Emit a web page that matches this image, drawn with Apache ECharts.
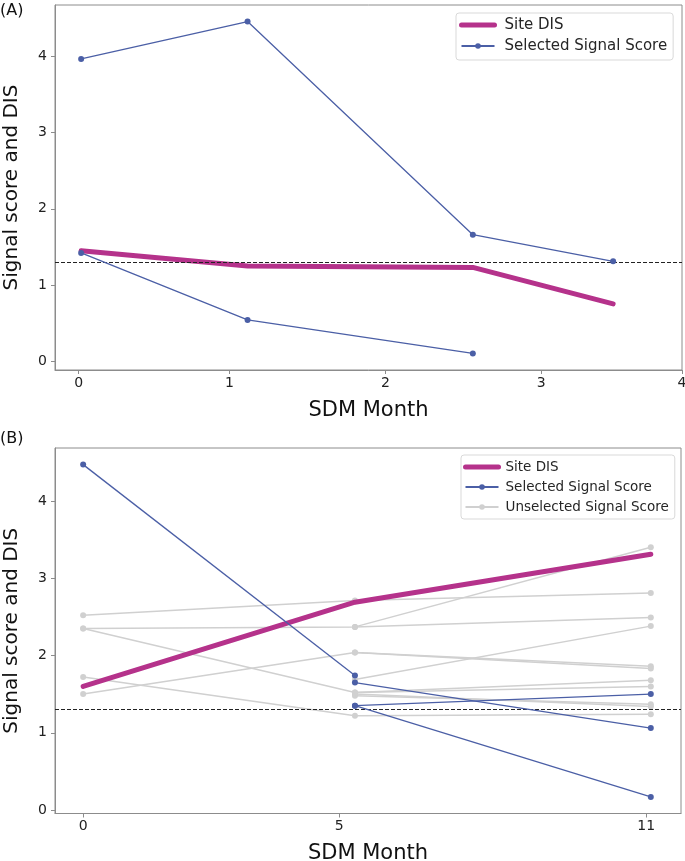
<!DOCTYPE html>
<html><head><meta charset="utf-8">
<script src="https://cdn.jsdelivr.net/npm/echarts@6/dist/echarts.min.js"></script>
<style>html,body{margin:0;padding:0;background:#fff}#c{width:685px;height:861px}</style>
</head><body><div id="c"></div>
<script>
// ---------- Panel A (x in days; ticks at month boundaries) ----------
const monthTicksA = [0, 30, 61, 92, 120];
const monthLabelsA = ['0', '1', '2', '3', '4'];
const daysA = [0.5, 33.6, 78.4, 106.3];
const siteDisA = [1.45, 1.25, 1.23, 0.75];
const selectedA1 = [3.97, 4.46, 1.66, 1.31];
const selectedA2 = [1.42, 0.54, 0.10, null];

// ---------- Panel B (x in months) ----------
const monthTicksB = [0, 5, 11];
const monthLabelsB = ['0', '5', '11'];
const monthsB = [0, 5.31, 11.09];
const siteDisB = [1.60, 2.69, 3.31];
const selectedB1 = [4.47, 1.74, null];
const selectedB2 = [null, 1.65, 1.06];
const selectedB3 = [null, 1.35, 1.50];
const selectedB4 = [null, 1.35, 0.17];
const unselectedB1 = [2.52, 2.71, 2.81];
const unselectedB2 = [2.35, 2.37, 2.49];
const unselectedB3 = [2.35, 1.52, 1.60];
const unselectedB4 = [1.72, 1.22, 1.24];
const unselectedB5 = [1.50, 2.04, 1.83];
const unselectedB6 = [null, 1.69, 2.38];
const unselectedB7 = [null, 2.37, 3.40];
const unselectedB8 = [null, 1.48, 1.37];
const unselectedB9 = [null, 1.50, 1.34];
const unselectedB10 = [null, 2.04, 1.86];
const unselectedB11 = [null, 1.52, 1.68];

const yTicks = [0, 1, 2, 3, 4];
const threshold = 1.3;

// ---------- styling ----------
const FONT = 'DejaVu Sans';
const C_DIS = '#b5328b', C_SEL = '#4b5fa6', C_UNS = '#d0d0d0', C_AX = '#8c8c8c';

function pairs(xs, ys) {
  const out = [];
  for (let i = 0; i < xs.length; i++) if (ys[i] !== null && ys[i] !== undefined) out.push([xs[i], ys[i]]);
  return out;
}
function xAxisCfg(gi, min, max, ticks, labels) {
  const map = {}; ticks.forEach((t, i) => map[t] = labels[i]);
  return {
    type: 'value', gridIndex: gi, min: min, max: max,
    name: 'SDM Month', nameLocation: 'middle', nameGap: 30,
    nameTextStyle: { fontSize: 21, color: '#111', fontFamily: FONT },
    axisLine: { show: true, onZero: false, lineStyle: { color: C_AX, width: 1 } },
    axisTick: { show: true, customValues: ticks, length: 4, lineStyle: { color: C_AX } },
    axisLabel: { customValues: ticks, showMinLabel: true, showMaxLabel: true,
      formatter: v => (map[v] !== undefined ? map[v] : ''), fontSize: 14, color: '#222', margin: 6, fontFamily: FONT },
    splitLine: { show: false }
  };
}
function yAxisCfg(gi, min, max) {
  return {
    type: 'value', gridIndex: gi, min: min, max: max,
    name: 'Signal score and DIS', nameLocation: 'middle', nameGap: 33,
    nameTextStyle: { fontSize: 20, color: '#111', fontFamily: FONT },
    axisLine: { show: true, onZero: false, lineStyle: { color: C_AX, width: 1 } },
    axisTick: { show: true, customValues: yTicks, length: 4, lineStyle: { color: C_AX } },
    axisLabel: { customValues: yTicks, showMinLabel: true, showMaxLabel: true,
      fontSize: 14, color: '#222', margin: 8, fontFamily: FONT },
    splitLine: { show: false }
  };
}
function disSeries(gi, xs, ys) {
  return {
    type: 'line', name: 'Site DIS', xAxisIndex: gi, yAxisIndex: gi, z: 4,
    data: pairs(xs, ys), symbol: 'circle', symbolSize: 4, showSymbol: true,
    lineStyle: { color: C_DIS, width: 5, cap: 'round', join: 'round' },
    itemStyle: { color: C_DIS },
    markLine: {
      silent: true, symbol: ['none', 'none'], label: { show: false },
      lineStyle: { color: '#222', type: [4, 2], width: 1.2 },
      data: [{ yAxis: threshold }]
    }
  };
}
function sigSeries(gi, name, xs, ys, color, width, z) {
  return {
    type: 'line', name: name, xAxisIndex: gi, yAxisIndex: gi, z: z,
    data: pairs(xs, ys), symbol: 'circle', symbolSize: 6, showSymbol: true,
    lineStyle: { color: color, width: width }, itemStyle: { color: color }
  };
}

const series = [
  disSeries(0, daysA, siteDisA),
  sigSeries(0, 'Selected Signal Score', daysA, selectedA1, C_SEL, 1.3, 5),
  sigSeries(0, 'Selected Signal Score', daysA, selectedA2, C_SEL, 1.3, 5),
  disSeries(1, monthsB, siteDisB)
];
[selectedB1, selectedB2, selectedB3, selectedB4].forEach(s =>
  series.push(sigSeries(1, 'Selected Signal Score', monthsB, s, C_SEL, 1.3, 5)));
[unselectedB1, unselectedB2, unselectedB3, unselectedB4, unselectedB5, unselectedB6,
 unselectedB7, unselectedB8, unselectedB9, unselectedB10, unselectedB11].forEach(s =>
  series.push(sigSeries(1, 'Unselected Signal Score', monthsB, s, C_UNS, 1.5, 2)));

const legendBase = {
  orient: 'vertical', itemWidth: 33, itemHeight: 7,
  borderColor: '#d9d9d9', borderWidth: 1, borderRadius: 3,
  backgroundColor: 'rgba(255,255,255,0.85)',
  selectedMode: false
};
const disLegendItem = { name: 'Site DIS', lineStyle: { width: 5 }, itemStyle: { opacity: 0 } };

const option = {
  animation: false,
  grid: [
    { left: 55, top: 5, width: 627, height: 365, show: true, borderColor: C_AX, borderWidth: 1,
      backgroundColor: 'transparent', containLabel: false, outerBoundsMode: 'none' },
    { left: 55, top: 448, width: 626, height: 365.5, show: true, borderColor: C_AX, borderWidth: 1,
      backgroundColor: 'transparent', containLabel: false, outerBoundsMode: 'none' }
  ],
  xAxis: [
    xAxisCfg(0, -4.7, 120, monthTicksA, monthLabelsA),
    xAxisCfg(1, -0.55, 11.68, monthTicksB, monthLabelsB)
  ],
  yAxis: [yAxisCfg(0, -0.118, 4.678), yAxisCfg(1, -0.045, 4.685)],
  legend: [
    Object.assign({}, legendBase, { left: 456, top: 13, padding: [4, 6, 6, 3], itemGap: 5,
      textStyle: { fontSize: 15, lineHeight: 16, color: '#262626', fontFamily: FONT, padding: [0, 0, 0, 5] },
      data: [disLegendItem, 'Selected Signal Score'] }),
    Object.assign({}, legendBase, { left: 461, top: 455, padding: [4, 6, 4, 2], itemGap: 4,
      textStyle: { fontSize: 13.5, lineHeight: 16, color: '#262626', fontFamily: FONT, padding: [0, 0, 0, 2] },
      data: [disLegendItem, 'Selected Signal Score', 'Unselected Signal Score'] })
  ],
  graphic: [
    { type: 'text', left: 0, top: 3, style: { text: '(A)', fontSize: 16, fontFamily: FONT, fill: '#111' } },
    { type: 'text', left: 0, top: 431, style: { text: '(B)', fontSize: 16, fontFamily: FONT, fill: '#111' } }
  ],
  series: series
};
const chart = echarts.init(document.getElementById('c'), null, { renderer: 'canvas' });
chart.setOption(option);
</script></body></html>
